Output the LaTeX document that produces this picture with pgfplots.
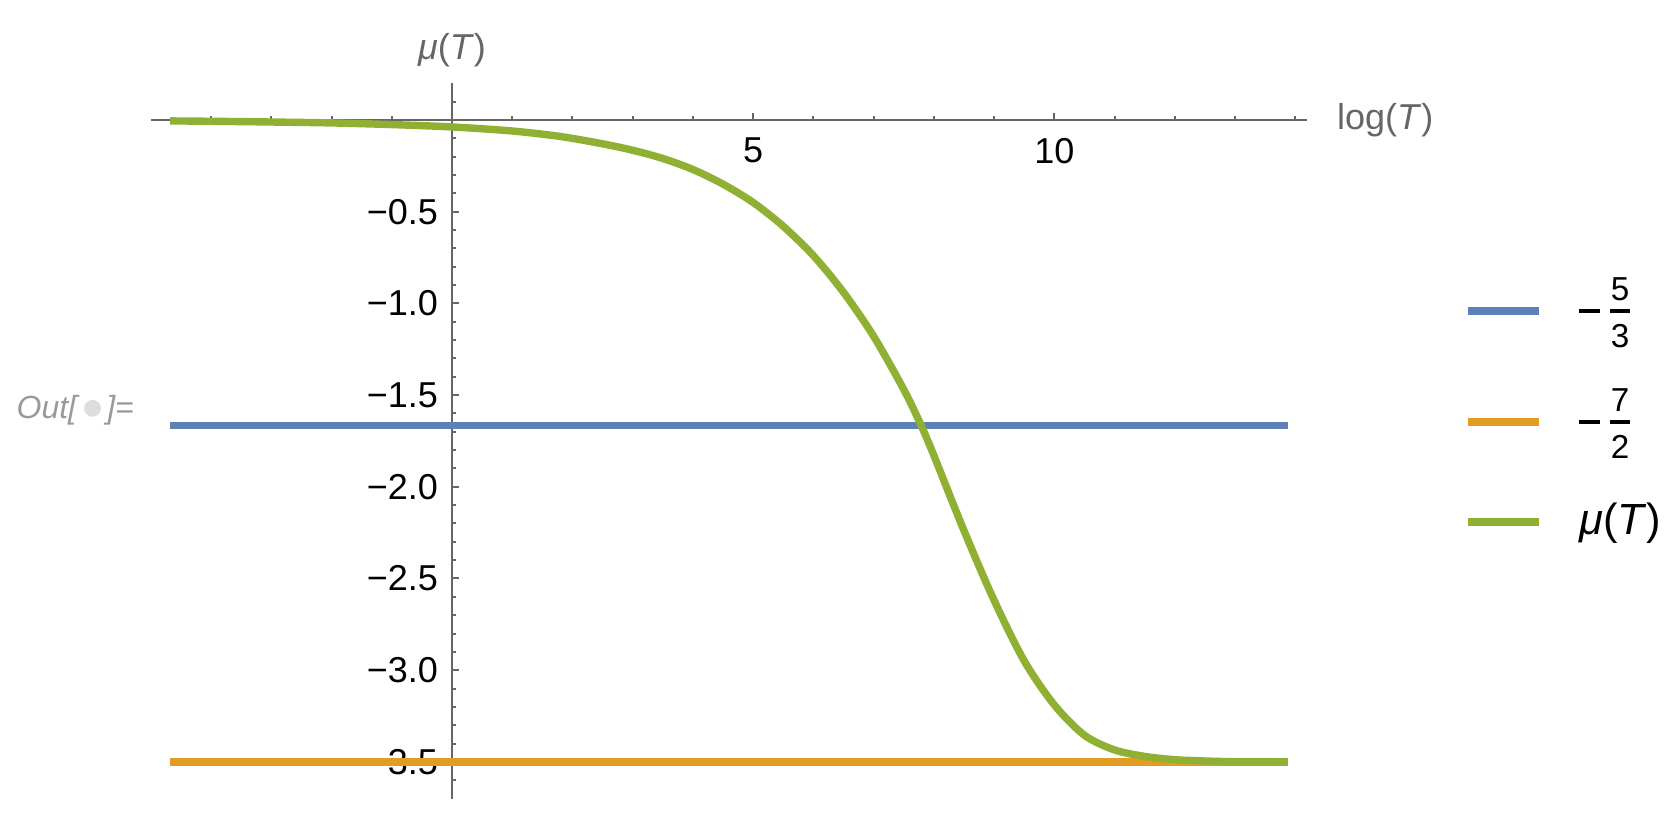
\documentclass[border=0pt]{standalone}
\usepackage{fontspec}
\setmainfont{Liberation Sans}
\newfontfamily\dejavu{DejaVu Sans}
\usepackage{pgfplots}
\pgfplotsset{compat=1.18}
\definecolor{mBlue}{HTML}{5E81B5}
\definecolor{mOrange}{HTML}{E19C24}
\definecolor{mGreen}{HTML}{8FB032}
\definecolor{axgray}{HTML}{666666}
\definecolor{outgray}{HTML}{999999}
\definecolor{dotgray}{HTML}{DDDDDD}

% minus sign and stacked fraction as Mathematica draws them in the legend (bar at 2pt)
\newcommand\negfrac[2]{%
  \hspace{4.9pt}\rule[1.5pt]{5.2pt}{1pt}\hspace{2.5pt}%
  \rlap{\raisebox{4.75pt}{\makebox[5pt]{#1}}}%
  \rlap{\raisebox{-7pt}{\makebox[5pt]{#2}}}%
  \rule[1.5pt]{5pt}{1pt}}
\pgfplotsset{
  legline/.style={legend image code/.code={\draw[##1] (0pt,#1) -- (17.75pt,#1);}},
}

\begin{document}
\begin{tikzpicture}
\begin{axis}[
  x=15.06pt, y=45.85pt,
  xmin=-5, xmax=14.2, ymin=-3.7, ymax=0.2,
  axis lines=middle,
  axis line style={axgray, -, line width=0.5pt},
  every tick/.style={axgray, line width=0.5pt},
  tick align=inside,
  major tick length=1.7pt, minor tick length=1pt,
  xtick={5,10}, xticklabels={5,10},
  minor xtick={-4,...,14},
  ytick={-3.5,-3,...,-0.5},
  yticklabels={−3.5,−3.0,−2.5,−2.0,−1.5,−1.0,−0.5},
  minor ytick={-3.6,-3.5,...,0.1},
  tick label style={font=\fontsize{9}{10}\selectfont, text=black},
  xticklabel style={yshift=-1pt},
  clip=false,
  legend cell align=left,
  legend style={at={(axis description cs:1.1354,0.7376)}, anchor=north west,
    draw=none, fill=none, inner sep=0pt, outer sep=0pt,
    column sep=4.3pt, row sep=0pt,
    nodes={inner sep=0pt, outer sep=0pt}, cells={anchor=base west}},
]
\addplot[mBlue, line width=1.85pt, line cap=butt, legline=2pt]
  coordinates {(-4.68,-1.66667) (13.87,-1.66667)};
\addlegendentry[text height=12pt, text depth=13.75pt]{\fontsize{8.3}{9}\selectfont\negfrac{5}{3}}
\addplot[mOrange, line width=1.85pt, line cap=butt, legline=2pt]
  coordinates {(-4.68,-3.5) (13.87,-3.5)};
\addlegendentry[text height=14pt, text depth=12.2pt]{\fontsize{8.3}{9}\selectfont\negfrac{7}{2}}
\addplot[mGreen, line width=1.85pt, line cap=butt, line join=round, smooth, legline=3.2pt]
  coordinates {
  (-4.68,-0.005) (-4,-0.007) (-3,-0.011) (-2,-0.016) (-1,-0.025)
  (0,-0.038) (1,-0.06) (1.8,-0.09) (2.5,-0.13) (3,-0.165)
  (3.5,-0.21) (4,-0.27) (4.5,-0.35) (5,-0.45) (5.5,-0.58)
  (6,-0.74) (6.5,-0.94) (7,-1.18) (7.5,-1.47) (7.79,-1.667)
  (8,-1.83) (8.5,-2.24) (9,-2.62) (9.5,-2.95) (10,-3.19)
  (10.5,-3.355) (11,-3.435) (11.5,-3.47) (12,-3.488) (12.5,-3.495)
  (13,-3.499) (13.87,-3.5)};
\addlegendentry[text height=14pt, text depth=4pt]{\hspace{4.9pt}\fontsize{10.9}{12}\selectfont\textit{μ}(\textit{T})}
\coordinate (O) at (axis cs:0,0);
\node[text=axgray, font=\fontsize{9}{10}\selectfont] at (axis cs:0,0.379) {\textit{μ}(\textit{T})};
\node[anchor=west, inner sep=0pt, text=axgray, font=\fontsize{9}{10}\selectfont]
  at (axis cs:14.68,0) {log(\textit{T})};
\node[anchor=west, inner sep=0pt, text=outgray, font=\fontsize{8}{9}\selectfont\itshape]
  at (axis cs:-7.24,-1.581)
  {Out[\hspace{1.5pt}\raisebox{0.9pt}{\dejavu\fontsize{5.5}{6}\selectfont\color{dotgray}●}\hspace{1pt}]=};
\end{axis}
\pgfresetboundingbox
\path[use as bounding box] ([shift={(-113pt,-173.25pt)}]O) rectangle ([shift={(303.5pt,30pt)}]O);
\end{tikzpicture}
\end{document}
